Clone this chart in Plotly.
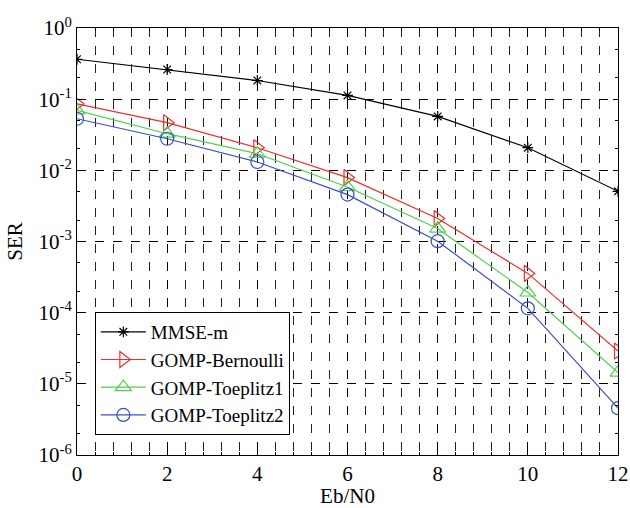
import plotly.graph_objects as go

ebn0 = [0, 2, 4, 6, 8, 10, 12]
mmse_m = [0.364, 0.261, 0.183, 0.113, 0.0572, 0.0208, 0.00507]
gomp_bernoulli = [0.0861, 0.0467, 0.0208, 0.0079, 0.0021, 3.56e-4, 2.89e-5]
gomp_toeplitz1 = [0.0695, 0.0327, 0.0171, 0.00583, 0.00152, 1.92e-4, 1.44e-5]
gomp_toeplitz2 = [0.0531, 0.0278, 0.0131, 0.00456, 0.00101, 1.15e-4, 4.55e-6]

x_ticks = [0, 2, 4, 6, 8, 10, 12]
y_exps = [0, -1, -2, -3, -4, -5, -6]

series = [
    ("MMSE-m", mmse_m, "#000000", "asterisk-open", 9),
    ("GOMP-Bernoulli", gomp_bernoulli, "#e8302a", "triangle-right-open", 14),
    ("GOMP-Toeplitz1", gomp_toeplitz1, "#4fcf4f", "triangle-up-open", 14),
    ("GOMP-Toeplitz2", gomp_toeplitz2, "#3a4fc4", "circle-open", 13),
]

fig = go.Figure()
for name, vals, color, sym, size in series:
    fig.add_trace(go.Scatter(
        x=ebn0, y=vals, name=name, mode="lines+markers",
        line=dict(color=color, width=1.2),
        marker=dict(symbol=sym, size=size, color=color, line=dict(color=color, width=1.2)),
    ))

FAM = "Liberation Serif"
tick_font = dict(family=FAM, size=21, color="black")
title_font = dict(family=FAM, size=21, color="black")

fig.update_layout(
    width=630, height=508,
    margin=dict(l=77, r=12, t=28, b=53),
    paper_bgcolor="white", plot_bgcolor="white",
    font=dict(family=FAM, size=20, color="black"),
    showlegend=True,
    legend=dict(
        x=0.033, y=0.335, xanchor="left", yanchor="top",
        bgcolor="white", bordercolor="black", borderwidth=1,
        font=dict(family=FAM, size=19, color="black"),
        tracegroupgap=0, itemwidth=45,
    ),
    xaxis=dict(
        range=[0, 12], tickvals=x_ticks, ticktext=[str(v) for v in x_ticks],
        automargin=False,
        showline=True, linecolor="black", linewidth=1, mirror="ticks",
        ticks="inside", ticklen=5, tickcolor="black",
        showgrid=True, gridcolor="black", griddash="dash", gridwidth=1.2,
        zeroline=False,
        minor=dict(dtick=0.4, tick0=0, showgrid=True, gridcolor="#222222",
                   griddash="dash", gridwidth=0.8, ticks="inside", ticklen=3, tickcolor="black"),
        title=dict(text="Eb/N0", font=title_font, standoff=6),
        tickfont=tick_font,
    ),
    yaxis=dict(
        type="log", range=[-6, 0],
        tickvals=[10 ** e for e in y_exps],
        ticktext=["10<sup>%d</sup>" % e for e in y_exps],
        automargin=False,
        showline=True, linecolor="black", linewidth=1, mirror="ticks",
        ticks="inside", ticklen=5, tickcolor="black",
        showgrid=True, gridcolor="black", griddash="dash", gridwidth=1,
        zeroline=False,
        minor=dict(ticks="inside", ticklen=3, tickcolor="black", showgrid=False),
        title=dict(text="SER", font=title_font, standoff=10),
        tickfont=tick_font,
    ),
)

fig.write_html(
    "out.html",
    config={"displayModeBar": False},
    post_script="document.body.style.margin='0';document.body.style.overflow='hidden';",
)
